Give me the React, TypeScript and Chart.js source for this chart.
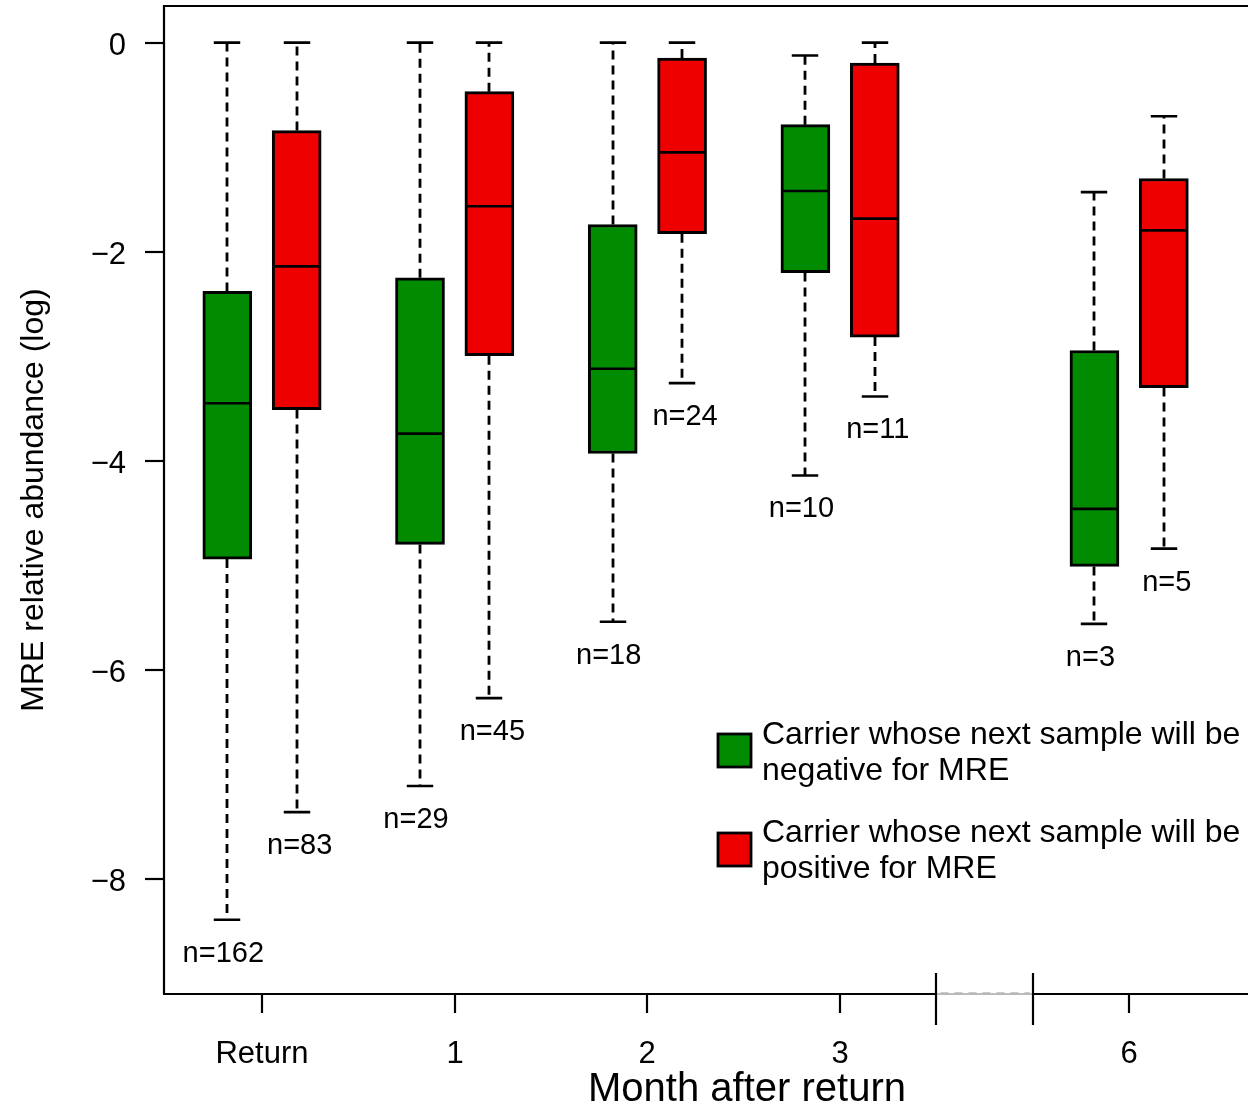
import React, { useEffect, useRef } from 'react';
import { Chart, registerables } from 'chart.js';

Chart.register(...registerables);

// ---------------- data ----------------
const categories = ['Return', '1', '2', '3', '6'];
const categoryX = [0, 1, 2, 3, 4.5]; // position on the (broken) month axis
const axisBreak = [3.5, 4.0];
const yTicks = [0, -2, -4, -6, -8];

const negLow = [-8.39, -7.11, -5.54, -4.14, -5.56];
const negQ1 = [-4.94, -4.8, -3.93, -2.2, -5.01];
const negMedian = [-3.45, -3.74, -3.12, -1.42, -4.46];
const negQ3 = [-2.38, -2.25, -1.74, -0.785, -2.945];
const negHigh = [0, 0, 0, -0.124, -1.43];
const negN = [162, 29, 18, 10, 3];

const posLow = [-7.36, -6.27, -3.257, -3.385, -4.84];
const posQ1 = [-3.51, -2.995, -1.828, -2.817, -3.3];
const posMedian = [-2.14, -1.566, -1.05, -1.684, -1.796];
const posQ3 = [-0.842, -0.469, -0.147, -0.195, -1.3];
const posHigh = [0, 0, 0, 0, -0.705];
const posN = [83, 45, 24, 11, 5];

const negLegend = ['Carrier whose next sample will be', 'negative for MRE'];
const posLegend = ['Carrier whose next sample will be', 'positive for MRE'];
const xTitle = 'Month after return';
const yTitle = 'MRE relative abundance (log)';

// ---------------- styles ----------------
const GREEN = '#008B00';
const RED = '#EE0000';
const FONT = '"Liberation Sans", Arial, Helvetica, sans-serif';
const GROUP_OFFSET = 0.18;
const CANVAS_W = 1260;
const CANVAS_H = 1106;

const series = [
  { low: negLow, q1: negQ1, med: negMedian, q3: negQ3, high: negHigh, n: negN, labelShift: -4 },
  { low: posLow, q1: posQ1, med: posMedian, q3: posQ3, high: posHigh, n: posN, labelShift: 3 },
];

const minus = (v: number) => (v < 0 ? '\u2212' + Math.abs(v) : String(v));

const boxPlugin = {
  id: 'boxExtras',
  beforeDatasetsDraw(chart: any) {
    const { ctx, scales } = chart;
    const y = scales.y;
    ctx.save();
    series.forEach((s, di) => {
      const meta = chart.getDatasetMeta(di);
      meta.data.forEach((bar: any, i: number) => {
        const cx = Math.round(bar.x);
        ctx.strokeStyle = '#000';
        ctx.lineWidth = 2.8;
        ctx.setLineDash([9, 6]);
        ctx.beginPath();
        ctx.moveTo(cx, y.getPixelForValue(s.q3[i]));
        ctx.lineTo(cx, y.getPixelForValue(s.high[i]));
        ctx.moveTo(cx, y.getPixelForValue(s.q1[i]));
        ctx.lineTo(cx, y.getPixelForValue(s.low[i]));
        ctx.stroke();
        ctx.setLineDash([]);
        ctx.lineWidth = 2.6;
        const cap = bar.width * 0.27;
        ctx.beginPath();
        ctx.moveTo(cx - cap, y.getPixelForValue(s.high[i]));
        ctx.lineTo(cx + cap, y.getPixelForValue(s.high[i]));
        ctx.moveTo(cx - cap, y.getPixelForValue(s.low[i]));
        ctx.lineTo(cx + cap, y.getPixelForValue(s.low[i]));
        ctx.stroke();
      });
    });
    ctx.restore();
  },
  afterDatasetsDraw(chart: any) {
    const { ctx, scales } = chart;
    const y = scales.y;
    ctx.save();
    series.forEach((s, di) => {
      const meta = chart.getDatasetMeta(di);
      meta.data.forEach((bar: any, i: number) => {
        const cx = bar.x;
        const hw = bar.width / 2;
        const my = y.getPixelForValue(s.med[i]);
        ctx.strokeStyle = '#000';
        ctx.lineWidth = 2.6;
        ctx.setLineDash([]);
        ctx.beginPath();
        ctx.moveTo(cx - hw + 1, my);
        ctx.lineTo(cx + hw - 1, my);
        ctx.stroke();
        ctx.fillStyle = '#000';
        ctx.font = `29px ${FONT}`;
        ctx.textAlign = 'center';
        ctx.textBaseline = 'alphabetic';
        ctx.fillText('n=' + s.n[i], cx + s.labelShift, y.getPixelForValue(s.low[i]) + 42);
      });
    });
    ctx.restore();
  },
  afterDraw(chart: any) {
    const { ctx, chartArea, scales } = chart;
    const x = scales.x;
    const y = scales.y;
    const { left, top, bottom } = chartArea;
    const right = chart.width;
    ctx.save();
    ctx.strokeStyle = '#000';
    ctx.lineWidth = 2.2;
    ctx.setLineDash([]);
    // frame: left + top
    ctx.beginPath();
    ctx.moveTo(left, bottom);
    ctx.lineTo(left, top);
    ctx.lineTo(right, top);
    ctx.stroke();
    // bottom axis with break
    const b0 = x.getPixelForValue(axisBreak[0]);
    const b1 = x.getPixelForValue(axisBreak[1]);
    ctx.beginPath();
    ctx.moveTo(left - 1, bottom);
    ctx.lineTo(b0, bottom);
    ctx.moveTo(b1, bottom);
    ctx.lineTo(right, bottom);
    ctx.stroke();
    ctx.strokeStyle = '#7a7a7a';
    ctx.lineWidth = 1;
    ctx.beginPath();
    ctx.moveTo(b0, bottom);
    ctx.lineTo(b1, bottom);
    ctx.stroke();
    ctx.strokeStyle = '#b8b8b8';
    ctx.lineWidth = 2.5;
    ctx.setLineDash([8, 6]);
    ctx.beginPath();
    ctx.moveTo(b0 + 4, bottom - 0.5);
    ctx.lineTo(b1 - 3, bottom - 0.5);
    ctx.stroke();
    ctx.setLineDash([]);
    ctx.strokeStyle = '#000';
    ctx.lineWidth = 2.2;
    ctx.beginPath();
    [b0, b1].forEach((bx) => {
      ctx.moveTo(Math.round(bx), bottom - 21);
      ctx.lineTo(Math.round(bx), bottom + 31);
    });
    ctx.stroke();
    // x ticks + labels
    ctx.fillStyle = '#000';
    ctx.font = `31px ${FONT}`;
    ctx.textAlign = 'center';
    ctx.textBaseline = 'alphabetic';
    categories.forEach((c, i) => {
      const px = Math.round(x.getPixelForValue(categoryX[i]));
      ctx.beginPath();
      ctx.moveTo(px, bottom);
      ctx.lineTo(px, bottom + 19);
      ctx.stroke();
      ctx.fillText(c, px, bottom + 69);
    });
    // y ticks + labels
    ctx.textAlign = 'right';
    yTicks.forEach((v) => {
      const py = Math.round(y.getPixelForValue(v));
      ctx.beginPath();
      ctx.moveTo(left - 19, py);
      ctx.lineTo(left, py);
      ctx.stroke();
      ctx.fillText(minus(v), left - 38, py + 11.5);
    });
    // axis titles
    ctx.textAlign = 'center';
    ctx.font = `40px ${FONT}`;
    ctx.fillText(xTitle, 747, bottom + 107);
    ctx.save();
    ctx.translate(43, 500);
    ctx.rotate(-Math.PI / 2);
    ctx.font = `32px ${FONT}`;
    ctx.fillText(yTitle, 0, 0);
    ctx.restore();
    // legend
    const entries = [
      { color: GREEN, lines: negLegend, boxTop: 734, base: 743.5 },
      { color: RED, lines: posLegend, boxTop: 833, base: 842 },
    ];
    ctx.font = `32px ${FONT}`;
    ctx.textAlign = 'left';
    entries.forEach((e) => {
      ctx.fillStyle = e.color;
      ctx.fillRect(718, e.boxTop, 33, 33);
      ctx.lineWidth = 2.8;
      ctx.strokeStyle = '#000';
      ctx.strokeRect(718, e.boxTop, 33, 33);
      ctx.fillStyle = '#000';
      e.lines.forEach((t, k) => ctx.fillText(t, 762, e.base + k * 36));
    });
    ctx.restore();
  },
};

export default function App() {
  const ref = useRef<HTMLCanvasElement | null>(null);
  useEffect(() => {
    if (!ref.current) return;
    const chart = new Chart(ref.current, {
      type: 'bar',
      data: {
        datasets: [
          {
            label: negLegend.join(' '),
            data: categoryX.map((c, i) => ({ x: c - GROUP_OFFSET, y: [negQ1[i], negQ3[i]] })) as any,
            backgroundColor: GREEN,
            borderColor: '#000',
            borderWidth: 3,
            borderSkipped: false,
            barThickness: 49,
            grouped: false,
          },
          {
            label: posLegend.join(' '),
            data: categoryX.map((c, i) => ({ x: c + GROUP_OFFSET, y: [posQ1[i], posQ3[i]] })) as any,
            backgroundColor: RED,
            borderColor: '#000',
            borderWidth: 3,
            borderSkipped: false,
            barThickness: 49,
            grouped: false,
          },
        ],
      },
      options: {
        responsive: false,
        animation: false,
        devicePixelRatio: 1,
        events: [],
        layout: { padding: { left: 164, top: 6, right: 0, bottom: CANVAS_H - 994 } },
        plugins: { legend: { display: false }, tooltip: { enabled: false } },
        scales: {
          x: { type: 'linear', min: -0.5085, max: 5.179, offset: false, display: false },
          y: { type: 'linear', min: -9.1, max: 0.35, display: false },
        },
      },
      plugins: [boxPlugin],
    });
    return () => chart.destroy();
  }, []);
  return (
    <div
      style={{
        position: 'absolute',
        left: 0,
        top: 0,
        width: 1248,
        height: 1106,
        overflow: 'hidden',
        background: '#fff',
      }}
    >
      <canvas ref={ref} width={CANVAS_W} height={CANVAS_H} style={{ width: CANVAS_W, height: CANVAS_H, display: 'block' }} />
    </div>
  );
}
